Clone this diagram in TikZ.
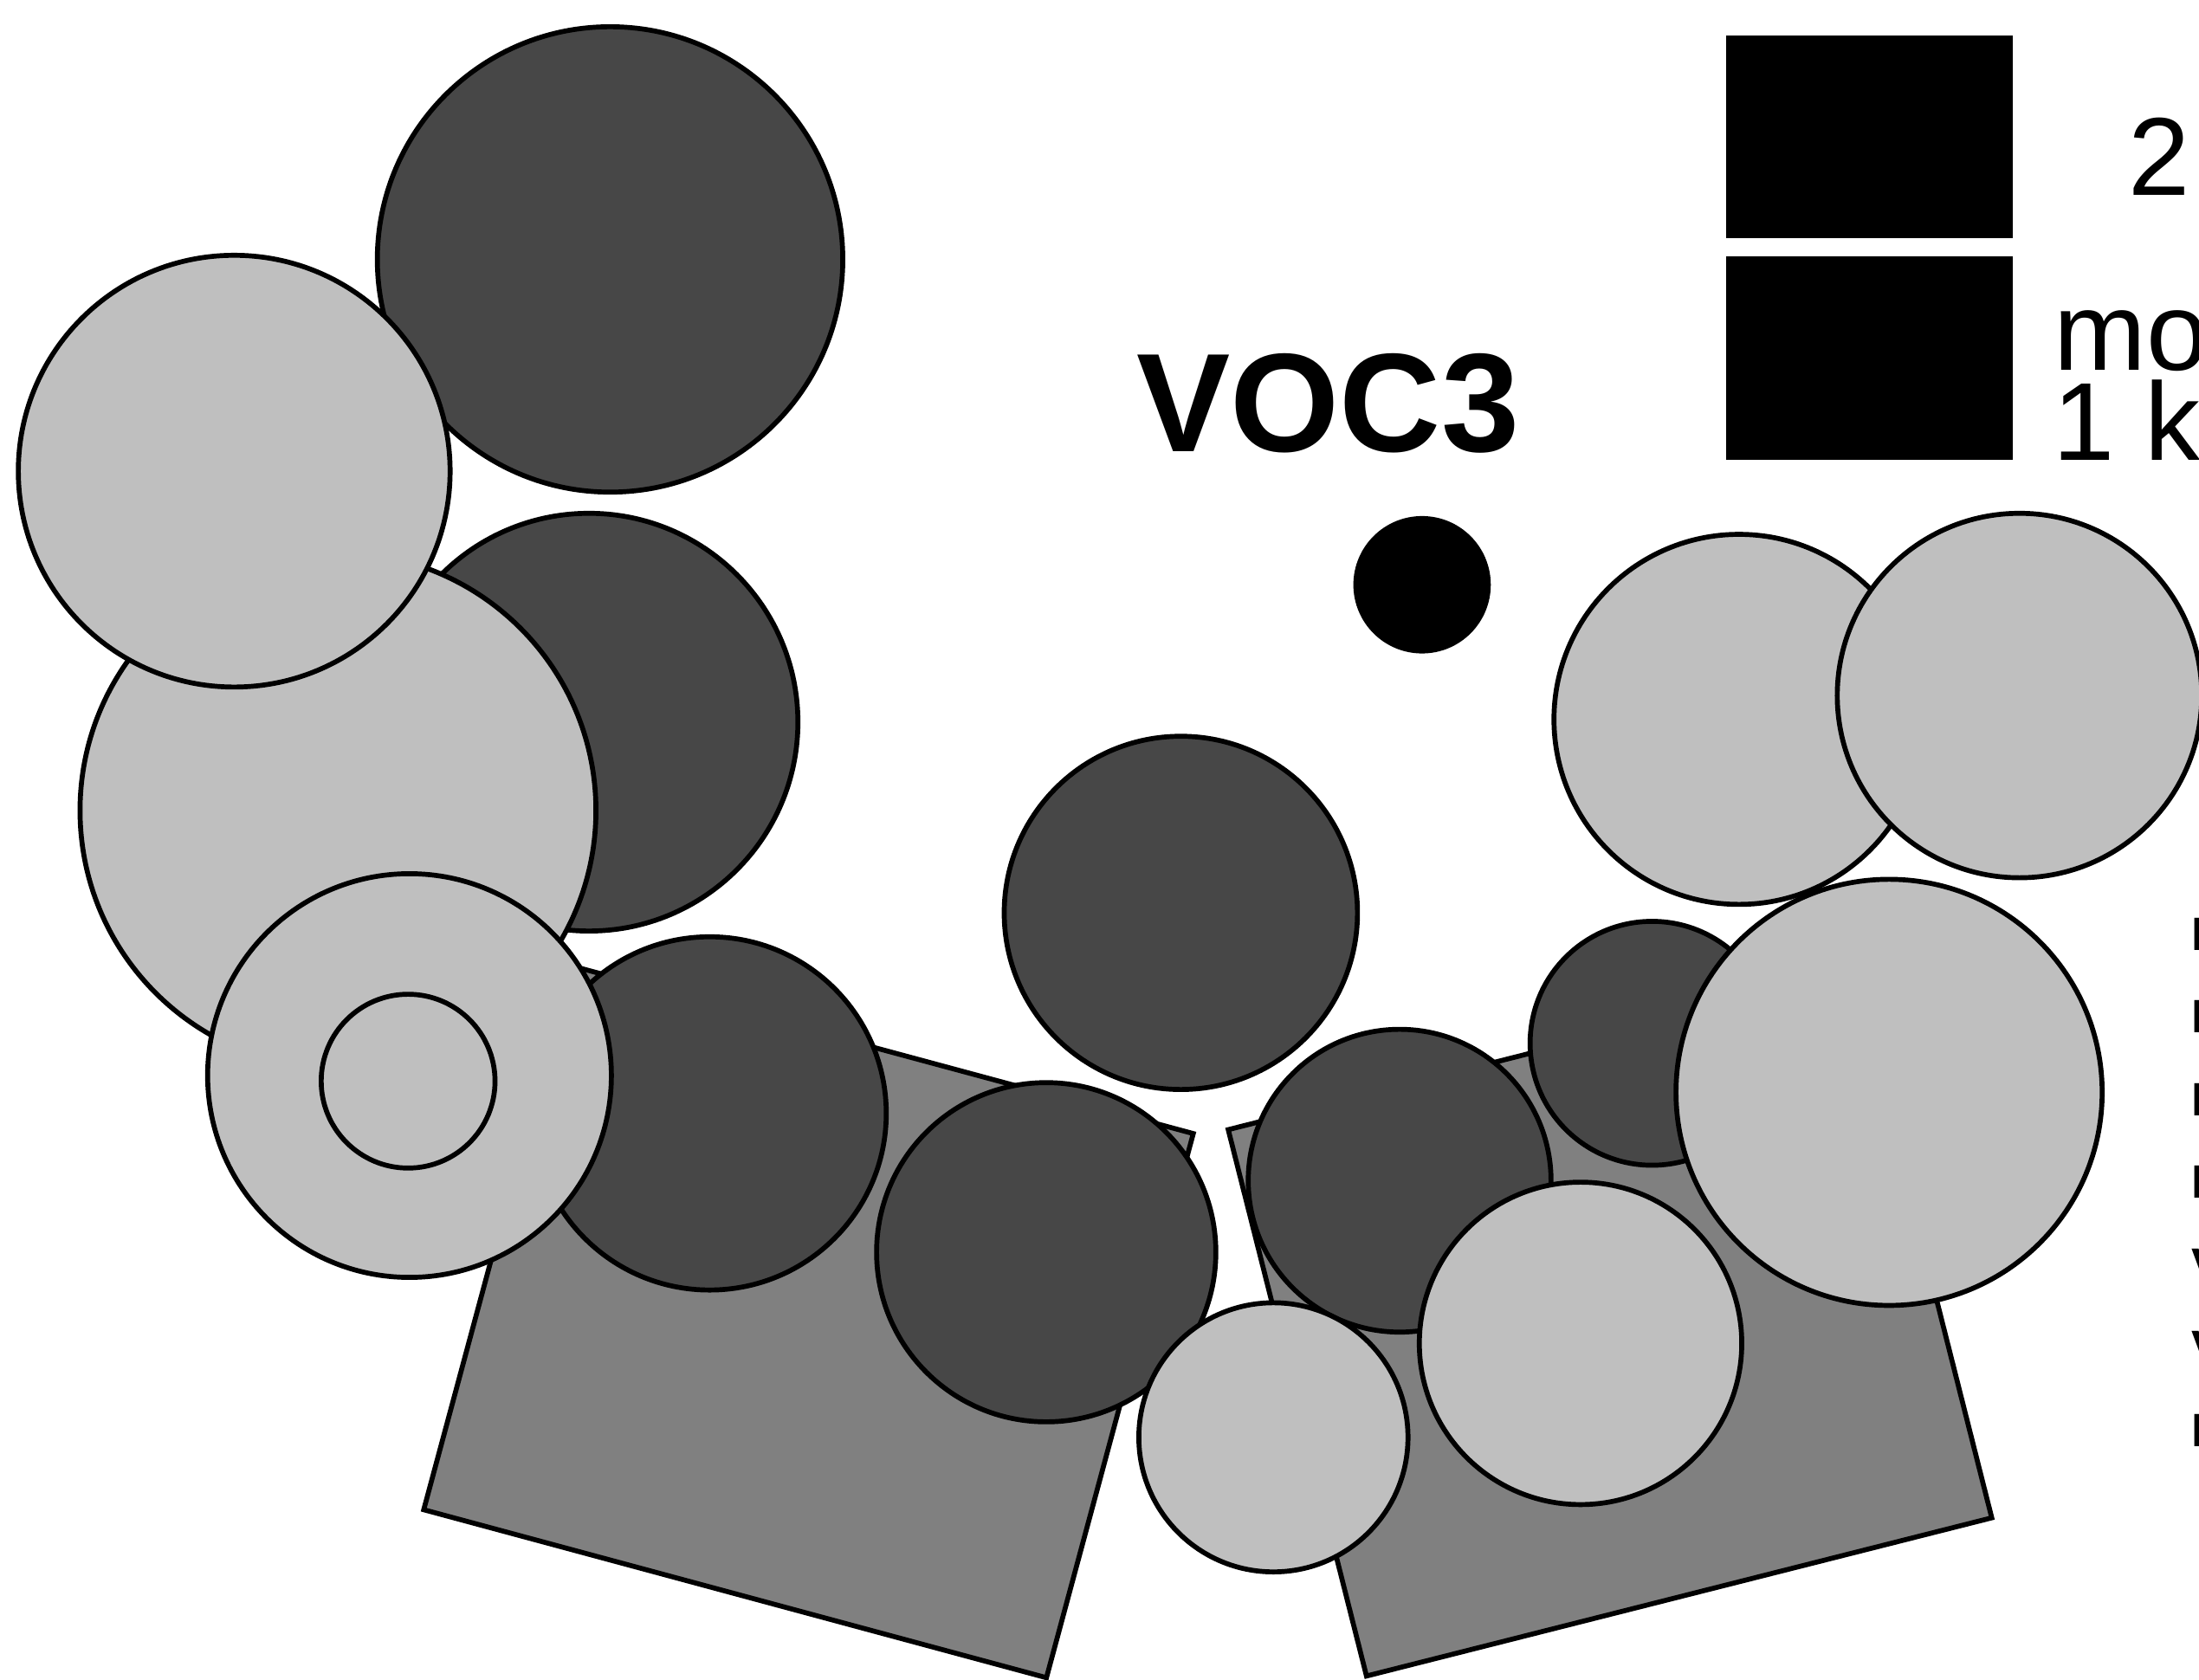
\documentclass[tikz,border=0pt]{standalone}
\usepackage{fontspec}
\setmainfont{Liberation Sans}
\definecolor{darkgrey}{HTML}{474747}
\definecolor{lightgrey}{HTML}{BFBFBF}
\definecolor{midgrey}{HTML}{808080}
\tikzset{every path/.style={line width=2pt}}
\tikzset{
  darkdisc/.style={circle,draw,inner sep=0pt,fill=darkgrey,minimum size=#1*0.04cm},
  lightdisc/.style={circle,draw,inner sep=0pt,fill=lightgrey,minimum size=#1*0.04cm},
  tile/.style={rectangle,draw,inner sep=0pt,fill=midgrey,minimum width=9.2cm,minimum height=8.04cm},
  legbox/.style={rectangle,fill=black,inner sep=0pt,minimum width=4.08cm,minimum height=2.9cm},
  sidelabel/.style={anchor=west,inner sep=0pt,font=\fontsize{19}{22}\selectfont\bfseries}
}

\begin{document}
\begin{tikzpicture}[x=0.02cm,y=-0.02cm]
    \useasboundingbox (0,0) rectangle (1568,1198);
    % tiles
    \node[tile,rotate=-15.1] (tileL) at (576.5,942.5) {};
    \node[tile,rotate=14.2]  (tileR) at (1148,944) {};
    % left arm
    \node[darkdisc=166]  (d1) at (435,185) {};
    \node[darkdisc=149]  (d2) at (420,515) {};
    \node[lightdisc=184] (l2) at (241,578) {};
    \node[lightdisc=154] (l1) at (167,336) {};
    \node[darkdisc=126]  (d3) at (506,794) {};
    \node[lightdisc=144] (ring) at (292,767) {};
    \node[lightdisc=62]  (core) at (291,771) {};
    \node[darkdisc=121]  (d4) at (746,893) {};
    \node[darkdisc=126]  (d5) at (842,651) {};
    % right arm
    \node[darkdisc=108]  (d6) at (998,842) {};
    \node[lightdisc=96]  (l8) at (908,1025) {};
    \node[lightdisc=115] (l7) at (1127,958) {};
    \node[darkdisc=87]   (d7) at (1178,744) {};
    \node[lightdisc=152] (l6) at (1347,779) {};
    \node[lightdisc=132] (l4) at (1240,513) {};
    \node[lightdisc=130] (l5) at (1440,496) {};
    % title and dot
    \node[font=\fontsize{57}{68}\selectfont\bfseries,anchor=base,inner sep=0pt] (voc) at (947,322) {VOC3};
    \node[circle,fill=black,inner sep=0pt,minimum size=1.96cm] (dot) at (1014,417) {};
    % legend
    \node[legbox] (keyA) at (1333,97.5) {};
    \node[legbox] (keyB) at (1333,255.5) {};
    \node[anchor=base west,inner sep=0pt,font=\fontsize{45}{54}\selectfont] (keyAtxt) at (1516,139) {2};
    \node[anchor=base west,inner sep=0pt,font=\fontsize{45}{54}\selectfont] (keyBtxt) at (1463,264) {mo};
    \node[anchor=base west,inner sep=0pt,font=\fontsize{45}{54}\selectfont] (keyCtxt) at (1462,328) {1 k};
    \foreach \letter [count=\i] in {D,F,M,M,V,V,K}
      \node[sidelabel] (side\i) at (1561,{666+59*(\i-1)}) {\letter};
\end{tikzpicture}
\end{document}
